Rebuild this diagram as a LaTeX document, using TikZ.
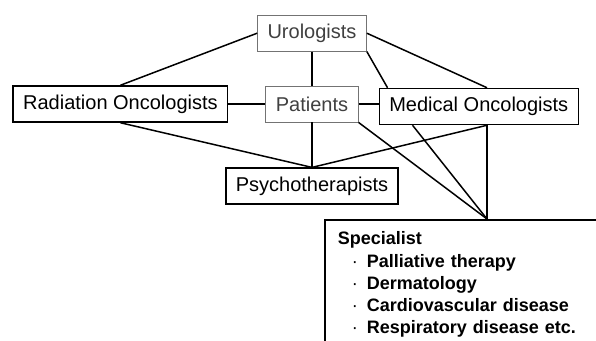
\documentclass[tikz,border=0pt]{standalone}
\usepackage{fontspec}
\setmainfont{Liberation Sans}
\usepackage{tikz}
\usetikzlibrary{positioning, calc}
\newcommand{\spitem}[1]{\hspace*{14pt}\makebox[15pt][l]{\mdseries\textperiodcentered}#1}

\begin{document}
\begin{tikzpicture}[
        x=1pt, y=1pt,
        box/.style={draw, line width=1.5pt, inner xsep=10pt, inner ysep=0pt,
                    minimum height=36pt, font=\fontsize{20}{24}\selectfont},
        softbox/.style={box, draw=black!55, line width=0.8pt, text=black!75},
        link/.style={line width=1.5pt}
      ]
        \clip (0,0) rectangle (596,-340);
        \fill[white] (0,0) rectangle (596,-340);
        \node[softbox] (pat) at (312,-104) {Patients};
        \node[softbox, above=34pt of pat] (uro) {Urologists};
        \node[box, left=37pt of pat] (rad) {Radiation Oncologists};
        \node[box, right=20pt of pat, yshift=-2.5pt] (med) {Medical Oncologists};
        \node[box, below=45pt of pat] (psy) {Psychotherapists};
        \node[draw, line width=1.5pt, anchor=north west, text width=290pt,
              inner xsep=13pt, inner ysep=12pt, align=left,
              font=\bfseries\fontsize{18}{22.3}\selectfont] (spec) at (324,-219)
          {Specialist\\
          \spitem{Palliative therapy}\\
          \spitem{Dermatology}\\
          \spitem{Cardiovascular disease}\\
          \spitem{Respiratory disease etc.}};
        \coordinate (hub) at ($(spec.north west)+(163,0)$);
        \draw[link] (rad.north) -- (uro.west);
        \draw[link] (rad.east) -- (pat.west);
        \draw[link] (rad.south) -- (psy.north);
        \draw[link] (uro.south) -- (pat.north);
        \draw[link] (pat.south) -- (psy.north);
        \draw[link] (uro.east) -- (hub |- med.north);
        \draw[link] (uro.south east) -- ($(med.north west)+(9,0)$);
        \draw[link] (pat.east) -- (pat.east -| med.west);
        \draw[link] (pat.south east) -- (hub);
        \draw[link] ($(med.south west)+(34,0)$) -- (hub);
        \draw[link] (hub |- med.south) -- (hub);
        \draw[link] (hub |- med.south) -- (psy.north);
      \end{tikzpicture}
\end{document}
